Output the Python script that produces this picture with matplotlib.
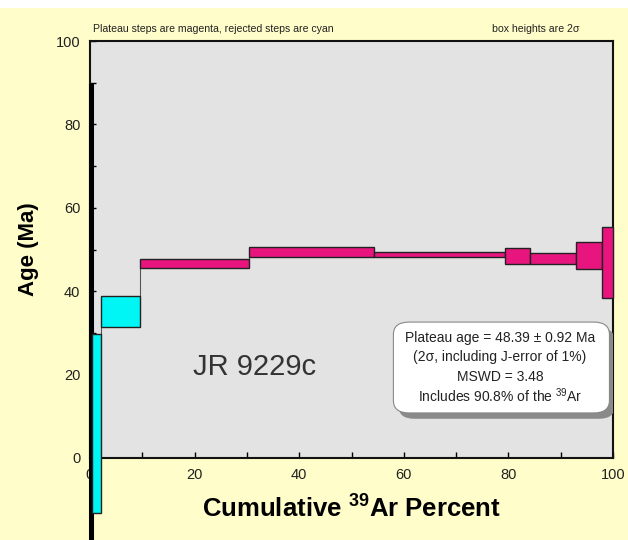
import matplotlib
matplotlib.use("Agg")
import matplotlib.pyplot as plt
from matplotlib.patches import Rectangle, FancyBboxPatch

plt.rcParams['font.family'] = ['Liberation Sans', 'DejaVu Sans']
plt.rcParams['mathtext.fontset'] = 'custom'
plt.rcParams['mathtext.rm'] = 'Liberation Sans'
plt.rcParams['mathtext.bf'] = 'Liberation Sans:bold'

# Step data: cumulative 39Ar boundaries (%), ages (Ma), 2-sigma half heights
cum_start = [0.0, 0.3, 2.1, 9.6, 30.4, 54.3, 79.4, 84.1, 92.9, 97.8]
cum_end   = [0.3, 2.1, 9.6, 30.4, 54.3, 79.4, 84.1, 92.9, 97.8, 100.0]
ages      = [32.0, 8.3, 35.1, 46.7, 49.4, 48.8, 48.4, 47.8, 48.5, 46.9]
errors    = [57.5, 21.5, 3.7, 1.05, 1.1, 0.7, 1.9, 1.3, 3.2, 8.5]
plateau   = [False, False, False, True, True, True, True, True, True, True]

x_ticks = [0, 20, 40, 60, 80, 100]
y_ticks = [0, 20, 40, 60, 80, 100]

MAGENTA = '#E8157F'
CYAN = '#00F5F5'

fig = plt.figure(figsize=(6.28, 5.4), dpi=100)
fig.patch.set_facecolor('#FFFDC9')
# white strip at top
fig.add_artist(Rectangle((0, 0.985), 1, 0.015, transform=fig.transFigure,
                         facecolor='white', edgecolor='none'))

ax = fig.add_axes([0.1433, 0.1519, 0.833, 0.772])
ax.set_facecolor('#E3E3E3')
ax.set_xlim(0, 100)
ax.set_ylim(0, 100)

# connectors between steps
for i in range(len(ages) - 1):
    lo1, hi1 = ages[i] - errors[i], ages[i] + errors[i]
    lo2, hi2 = ages[i + 1] - errors[i + 1], ages[i + 1] + errors[i + 1]
    if hi1 < lo2:
        ax.plot([cum_end[i]] * 2, [hi1, lo2], color='#555555', lw=0.8,
                zorder=2, clip_on=False)
    elif hi2 < lo1:
        ax.plot([cum_end[i]] * 2, [hi2, lo1], color='#555555', lw=0.8,
                zorder=2, clip_on=False)

for k, (s, e, a, er, p) in enumerate(zip(cum_start, cum_end, ages, errors, plateau)):
    r = Rectangle((s, a - er), e - s, 2 * er,
                  facecolor=MAGENTA if p else CYAN,
                  edgecolor='black' if k == 0 else '#222222',
                  lw=2.2 if k == 0 else 1.0,
                  zorder=3, clip_on=False)
    ax.add_patch(r)

ax.set_xticks(range(0, 101, 10))
ax.set_xticklabels([str(v) if v in x_ticks else '' for v in range(0, 101, 10)])
ax.set_yticks(range(0, 101, 10))
ax.set_yticklabels([str(v) if v in y_ticks else '' for v in range(0, 101, 10)])
ax.tick_params(direction='in', length=4, width=1, labelsize=10.5,
               labelcolor='#222222', pad=7)
for sp in ax.spines.values():
    sp.set_linewidth(1.5)
    sp.set_color('#111111')

ax.set_ylabel('Age (Ma)', fontsize=16, fontweight='bold', labelpad=12)
ax.set_xlabel(r'Cumulative $^{\mathbf{39}}$Ar Percent', fontsize=18.5,
              fontweight='bold', labelpad=9)

fig.text(0.148, 0.937, 'Plateau steps are magenta, rejected steps are cyan',
         fontsize=7.6, color='#222222', ha='left', va='bottom')
fig.text(0.922, 0.937, 'box heights are 2\u03c3',
         fontsize=7.6, color='#222222', ha='right', va='bottom')

ax.text(31.4, 21.8, 'JR 9229c', fontsize=21, color='#333333',
        ha='center', va='center')

# info box with shadow
shadow = FancyBboxPatch((59.0, 9.4), 41.3, 21.8,
                        boxstyle='round,pad=0,rounding_size=3',
                        facecolor='#8A8A8A', edgecolor='none', zorder=4)
ax.add_patch(shadow)
box = FancyBboxPatch((58.0, 10.8), 41.3, 21.8,
                     boxstyle='round,pad=0,rounding_size=3',
                     facecolor='white', edgecolor='#888888', lw=0.8, zorder=5)
ax.add_patch(box)
lines = ['Plateau age = 48.39 \u00b1 0.92 Ma',
         '(2\u03c3, including J-error of 1%)',
         'MSWD = 3.48',
         r'Includes 90.8% of the $^{39}$Ar']
line_y = [28.8, 24.2, 19.4, 14.9]
for t, yy in zip(lines, line_y):
    ax.text(78.4, yy, t, fontsize=10, color='#222222',
            ha='center', va='center', zorder=6)

fig.savefig('out.png', dpi=100, facecolor=fig.get_facecolor())
